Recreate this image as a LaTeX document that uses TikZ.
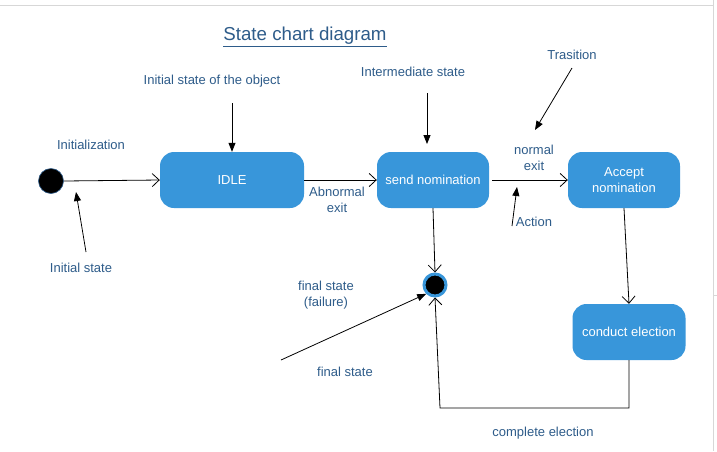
\documentclass[tikz,border=0pt]{standalone}
\usepackage{fontspec}
\setmainfont{Liberation Sans}
\usetikzlibrary{arrows.meta}
\definecolor{boxblue}{RGB}{56,150,218}
\definecolor{txtblue}{RGB}{46,92,138}
\definecolor{edge}{RGB}{215,215,215}
\tikzset{
  state/.style={draw=none, fill=boxblue, rounded corners=14pt, text=white, align=center,
    font=\fontsize{13}{15.5}\selectfont, inner sep=0pt},
  lbl/.style={text=txtblue, align=center, font=\fontsize{13}{16}\selectfont, inner sep=0pt},
  trans/.style={-{Straight Barb[length=7pt,width=13pt,line width=0.8pt]}, line width=0.8pt},
  note/.style={-{Triangle[length=9pt,width=7pt]}, line width=0.8pt},
}
\begin{document}
\begin{tikzpicture}[x=1pt,y=-1pt]
\useasboundingbox (0,0) rectangle (717,451);
\fill[white] (0,0) rectangle (717,451);
% screenshot frame lines
\draw[edge, line width=1pt] (0,5) -- (713,5);
\draw[edge, line width=1pt] (713,0) -- (713,451);
\draw[edge, line width=0.6pt] (713,295) -- (717,295);

% title
\node[text=txtblue, font=\fontsize{18.7}{21}\selectfont, inner sep=0pt] (title) at (305,37) {\underline{State chart diagram}};

% states
\node[circle, fill=black, draw=txtblue, line width=0.6pt, minimum size=25pt, inner sep=0pt] (init) at (51,181) {};
\node[state, minimum width=144pt, minimum height=56pt] (idle) at (232,180) {IDLE};
\node[state, minimum width=112pt, minimum height=56pt] (send) at (433,180) {send nomination};
\node[state, minimum width=112pt, minimum height=56pt] (accept) at (624,180) {Accept\\nomination};
\node[state, minimum width=113pt, minimum height=56pt] (conduct) at (629,332) {conduct election};
\node[circle, fill=black, draw=boxblue, line width=3pt, minimum size=22pt, inner sep=0pt] (final) at (435,285) {};

% transitions
\draw[trans] (init.east) -- (idle.west);
\draw[trans] (idle.east) -- (send.west);
\draw[trans] ([xshift=3pt]send.east) -- (accept.west);
\draw[trans] (send.south) -- (final.north);
\draw[trans] (accept.south) -- (conduct.north);
\coordinate (c1) at (629,408);
\coordinate (c2) at (440,408);
\draw[trans] (conduct.south) -- (c1) -- (c2) -- (final.south);

% labels
\node[lbl] (linit) at (91,145) {Initialization};
\node[lbl] (linitstate) at (81,268) {Initial state};
\node[lbl] (lobj) at (212,81) {Initial state of the object};
\node[lbl] (linter) at (413,72) {Intermediate state};
\node[lbl] (ltrans) at (572,55) {Trasition};
\node[lbl] (labn) at (337,200) {Abnormal\\exit};
\node[lbl] (lnorm) at (534,158) {normal\\exit};
\node[lbl] (lact) at (534,222) {Action};
\node[lbl] (lfail) at (326,295) {final state\\(failure)};
\node[lbl] (lfinal) at (345,372) {final state};
\node[lbl] (lcomp) at (543,433) {complete election};

% annotation arrows
\coordinate (a1) at (232,103);
\draw[note] (a1) -- (idle.north);
\coordinate (a2) at (427,93);
\coordinate (a2e) at (427,144);
\draw[note] (a2) -- (a2e);
\coordinate (a3) at (572,68);
\coordinate (a3e) at (535,130);
\draw[note] (a3) -- (a3e);
\coordinate (a4) at (86,252);
\coordinate (a4e) at (76,192);
\draw[note] (a4) -- (a4e);
\coordinate (a5) at (512,226);
\coordinate (a5e) at (517,187);
\draw[note] (a5) -- (a5e);
\coordinate (a6) at (281,360);
\draw[note] (a6) -- (final.south west);
\end{tikzpicture}
\end{document}
